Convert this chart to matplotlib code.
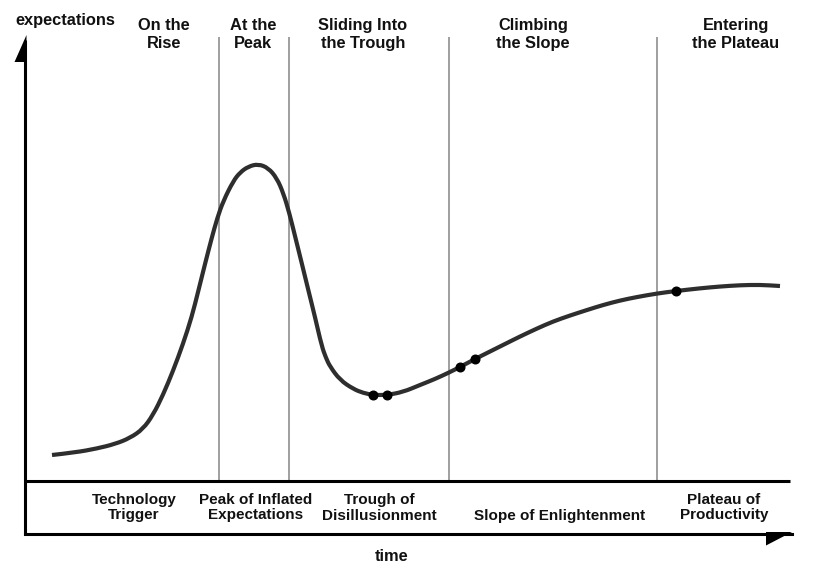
import matplotlib
matplotlib.use("Agg")
import matplotlib.pyplot as plt
from matplotlib.patches import Polygon, PathPatch
from matplotlib.path import Path

# ---------------- data ----------------
# Hype curve (time, expectations)
curve_time = [27, 50, 72, 90, 105, 118, 128, 138, 148, 158,
              166.7, 173.3, 180, 186.7, 192.3, 198.3, 208.3, 215, 223.3, 233.3,
              243.3, 251.7, 258.3, 264.3, 270, 276.7, 283.3, 290, 296.7, 301,
              305, 315, 328.3, 338.3, 348.3, 362, 378, 395, 410, 423,
              435, 450, 465, 478, 495, 512, 528, 545, 562, 578,
              595, 612, 632, 651, 675, 695, 715, 735, 755]
curve_expect = [26, 28.5, 32.5, 37, 43, 52, 66, 86, 110, 137,
                164, 190, 217, 243, 263, 280, 300, 308.5, 314.5, 317,
                313, 303, 288, 268, 245, 218, 191, 164, 135, 123,
                114.5, 101, 92, 88, 86, 86, 89, 96, 102, 108,
                114, 122, 129.5, 136, 144.5, 152.5, 159.5, 165.5, 171, 176,
                180.5, 184, 187.5, 190, 192.7, 194.5, 195.8, 196.2, 195]

# Highlighted points on the curve
dot_time = [348, 362, 435, 450, 651]
dot_expect = [86, 86, 114, 122, 190]

# Phase boundaries (time)
phase_bounds = [194, 264, 424, 632]

top_labels = ["On the\nRise", "At the\nPeak", "Sliding Into\nthe Trough",
              "Climbing\nthe Slope", "Entering\nthe Plateau"]
top_label_time = [139, 228, 338, 508, 711]

bottom_labels = ["Technology\nTrigger", "Peak of Inflated\nExpectations",
                 "Trough of\nDisillusionment", "Slope of Enlightenment",
                 "Plateau of\nProductivity"]
bottom_label_time = [109, 231, 354, 535, 699]

y_label = "expectations"
x_label = "time"

# ---------------- figure ----------------
W, H = 823, 567
fig = plt.figure(figsize=(W / 100, H / 100), dpi=100)
ax = fig.add_axes([0, 0, 1, 1])
# origin of the plot (time=0, expectations=0) sits at pixel (25, 481)
ax.set_xlim(-25, W - 25)
ax.set_ylim(481 - H, 481)
ax.axis("off")

FONT = ["Liberation Sans", "Arial", "DejaVu Sans"]


def py(ypix):
    return 481 - ypix


# phase separators
top_sep = py(37)
for t in phase_bounds:
    ax.plot([t, t], [0, top_sep], color="#8f8f8f", lw=1.2, zorder=1,
            solid_capstyle="butt")

# axes lines
bottom_band = py(533.5)
ax.plot([0, 0], [bottom_band, py(40)], color="black", lw=2.2, zorder=3,
        solid_capstyle="butt")
ax.plot([0, 765], [0, 0], color="black", lw=2.2, zorder=3,
        solid_capstyle="butt")
ax.plot([0, 767], [bottom_band, bottom_band], color="black", lw=2.2,
        zorder=3, solid_capstyle="projecting")
# half arrowheads
ax.add_patch(Polygon([(1.5, py(35)), (-10.5, py(62)), (1.5, py(62))],
                     closed=True, color="black", zorder=3, lw=0))
ax.add_patch(Polygon([(741, py(532)), (767, py(532)), (741, py(545.5))],
                     closed=True, color="black", zorder=3, lw=0))

# the curve, drawn as a smooth (quadratic Bezier) path through the read points
pts = list(zip(curve_time, curve_expect))
verts = [pts[0]]
codes = [Path.MOVETO]
for i in range(1, len(pts) - 1):
    mid = ((pts[i][0] + pts[i + 1][0]) / 2, (pts[i][1] + pts[i + 1][1]) / 2)
    verts += [pts[i], mid]
    codes += [Path.CURVE3, Path.CURVE3]
verts.append(pts[-1])
codes.append(Path.LINETO)
ax.add_patch(PathPatch(Path(verts, codes), fill=False, edgecolor="#2e2e2e",
                       lw=3.0, zorder=4, capstyle="butt", joinstyle="round"))

ax.plot(dot_time, dot_expect, "o", color="black", ms=6.2, zorder=5, mec="black")

# labels
ax.text(40, py(25), y_label, ha="center", va="baseline", fontsize=11.8,
        fontweight="bold", family=FONT, color="#111111")
for lab, t in zip(top_labels, top_label_time):
    for i, line in enumerate(lab.split("\n")):
        ax.text(t, py(30 + 17.7 * i), line, ha="center", va="baseline",
                fontsize=11.8, fontweight="bold", family=FONT, color="#111111")

for lab, t in zip(bottom_labels, bottom_label_time):
    lines = lab.split("\n")
    if len(lines) == 1:
        base = [520]
    else:
        base = [504, 519.5]
    for line, b in zip(lines, base):
        ax.text(t, py(b), line, ha="center", va="baseline", fontsize=11,
                fontweight="bold", family=FONT, color="#111111")

ax.text(367, py(561), x_label, ha="center", va="baseline", fontsize=11.8,
        fontweight="bold", family=FONT, color="#111111")

fig.savefig("out.png", dpi=100, facecolor="white")
